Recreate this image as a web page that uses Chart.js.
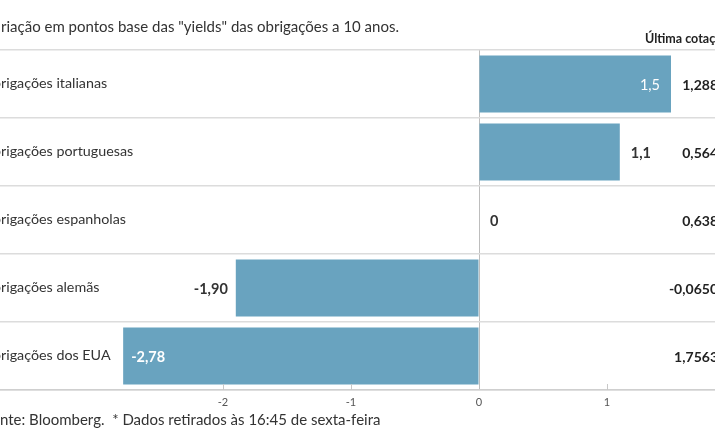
<!DOCTYPE html>
<html>
<head>
<meta charset="utf-8">
<script src="https://cdn.jsdelivr.net/npm/chart.js@4"></script>
<style>
html,body{margin:0;padding:0;background:#fff;overflow:hidden;}
canvas{display:block;}
</style>
</head>
<body>
<canvas id="c" width="715" height="445"></canvas>
<script>
const categories = ['Obrigações italianas','Obrigações portuguesas','Obrigações espanholas','Obrigações alemãs','Obrigações dos EUA'];
const changes = [1.5, 1.1, 0, -1.90, -2.78];
const changeLabels = ['1,5','1,1','0','-1,90','-2,78'];
const lastQuotes = ['1,288','0,564','0,638','-0,0650','1,7563'];
const tickValues = [-2, -1, 0, 1];
const titleText = 'Variação em pontos base das "yields" das obrigações a 10 anos.';
const quoteHeader = 'Última cotação*';
const sourceText = 'Fonte: Bloomberg.  * Dados retirados às 16:45 de sexta-feira';

const FONT = 'Lato';
const BAR = '#69a3bf';

const textPlugin = {
  id: 'texts',
  afterDatasetsDraw(chart) {
    const ctx = chart.ctx;
    const meta = chart.getDatasetMeta(0);
    const xs = chart.scales.x;
    const area = chart.chartArea;
    ctx.save();
    // small tick marks above the axis
    ctx.strokeStyle = '#c8c8c8';
    ctx.lineWidth = 1;
    tickValues.forEach(v => {
      if (v === 0) return;
      const px = Math.round(xs.getPixelForValue(v)) + 0.5;
      ctx.beginPath();
      ctx.moveTo(px, area.bottom - 6);
      ctx.lineTo(px, area.bottom);
      ctx.stroke();
    });
    // value labels
    ctx.textBaseline = 'middle';
    const vb = 'bold 14.5px ' + FONT;
    ctx.font = vb;
    meta.data.forEach((bar, i) => {
      const v = changes[i];
      const t = changeLabels[i];
      const w = ctx.measureText(t).width;
      const y = bar.y + 1;
      if (v >= 0) {
        const outX = bar.x + 11;
        if (outX + w < 665) {
          ctx.fillStyle = '#333';
          ctx.textAlign = 'left';
          ctx.fillText(t, outX, y);
        } else {
          ctx.fillStyle = '#fff';
          ctx.textAlign = 'right';
          ctx.font = '14.5px ' + FONT;
          ctx.fillText(t, bar.x - 11, y);
          ctx.font = vb;
        }
      } else {
        const outX = bar.x - 8;
        if (outX - w > 120) {
          ctx.fillStyle = '#333';
          ctx.textAlign = 'right';
          ctx.fillText(t, outX, y);
        } else {
          ctx.fillStyle = '#fff';
          ctx.textAlign = 'left';
          ctx.fillText(t, bar.x + 8, y);
        }
      }
    });
    // category labels
    ctx.font = '14.3px ' + FONT;
    ctx.fillStyle = '#333';
    ctx.textAlign = 'left';
    const catShift = ctx.measureText('Ob').width - 1;
    meta.data.forEach((bar, i) => {
      ctx.fillText(categories[i], -catShift, bar.y - 1);
    });
    // title
    ctx.font = '15px ' + FONT;
    ctx.fillText(titleText, -(ctx.measureText('Va').width - 1), 27);
    // source
    ctx.fillText(sourceText, -ctx.measureText('Fo').width, 420);
    // last quotes
    ctx.font = 'bold 14px ' + FONT;
    ctx.fillStyle = '#222';
    ctx.textAlign = 'right';
    meta.data.forEach((bar, i) => {
      ctx.fillText(lastQuotes[i], 718, bar.y + 1);
    });
    // header
    ctx.font = 'bold 12.5px ' + FONT;
    ctx.textAlign = 'left';
    ctx.fillText(quoteHeader, 645, 39);
    ctx.restore();
  }
};

new Chart(document.getElementById('c'), {
  type: 'bar',
  data: {
    labels: categories,
    datasets: [{
      data: changes,
      backgroundColor: BAR,
      borderWidth: 0,
      barPercentage: 0.84,
      categoryPercentage: 1
    }]
  },
  options: {
    indexAxis: 'y',
    responsive: false,
    animation: false,
    devicePixelRatio: 1,
    layout: { padding: { top: 50, left: 0, right: 0, bottom: 0 } },
    plugins: { legend: { display: false }, tooltip: { enabled: false }, title: { display: false } },
    scales: {
      x: {
        type: 'linear',
        min: -479 / 128,
        max: (715 - 479) / 128,
        afterBuildTicks: s => { s.ticks = tickValues.map(v => ({ value: v })); },
        afterFit: s => { s.height = 55; },
        grid: {
          drawTicks: false,
          color: c => (c.tick && c.tick.value === 0) ? '#bdbdbd' : 'rgba(0,0,0,0)',
          lineWidth: 1
        },
        border: { display: true, color: '#cfcfcf', width: 1.5 },
        ticks: {
          padding: 6,
          color: '#555',
          font: { family: FONT, size: 11 },
          callback: v => String(v)
        }
      },
      y: {
        type: 'category',
        offset: true,
        afterFit: s => { s.width = 0; },
        grid: { offset: true, drawTicks: false, color: '#dcdcdc', lineWidth: 1.5 },
        border: { display: false },
        ticks: { display: false }
      }
    }
  },
  plugins: [textPlugin]
});
</script>
</body>
</html>
